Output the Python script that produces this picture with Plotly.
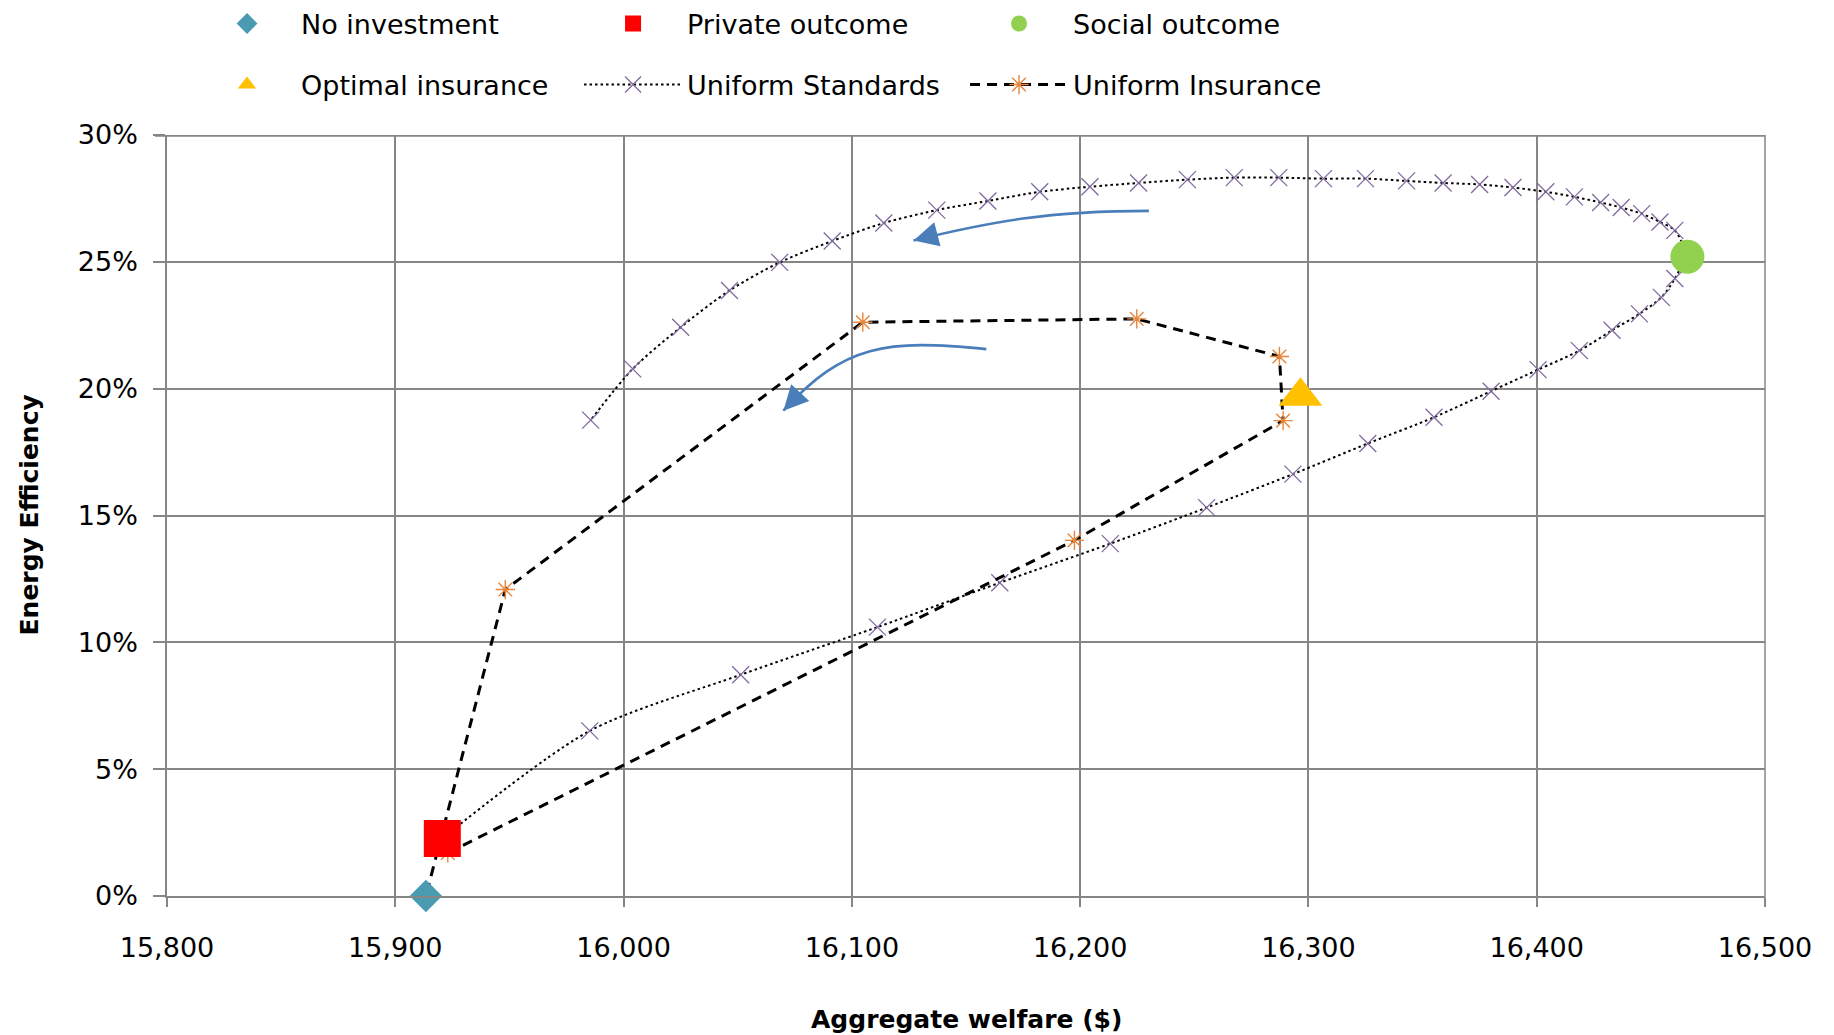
import plotly.graph_objects as go

# ---------------- data ----------------
no_inv_x = [15913.4]
no_inv_y = [0.0]

private_x = [15920.6]
private_y = [2.27]

social_x = [16466.0]
social_y = [25.2]

optimal_x = [16296.5]
optimal_y = [19.7]

us_x = [15921.0, 15985.2, 16051.3, 16111.2, 16164.8, 16213.2, 16255.4, 16293.2,
        16326.0, 16355.0, 16380.0, 16400.6, 16418.7, 16433.0, 16445.0, 16454.6,
        16460.5, 16465.0, 16460.5, 16454.0, 16446.0, 16437.0, 16428.0, 16416.5,
        16404.0, 16389.6, 16375.0, 16359.0, 16343.0, 16325.0, 16306.6, 16287.0,
        16267.5, 16247.0, 16225.6, 16204.3, 16182.3, 16159.6, 16137.2, 16114.0,
        16091.4, 16068.4, 16046.4, 16025.0, 16004.0, 15985.6]
us_y = [2.3, 6.51, 8.72, 10.6, 12.35, 13.89, 15.31, 16.63,
        17.84, 18.87, 19.9, 20.75, 21.5, 22.3, 22.95, 23.6,
        24.34, 25.3, 26.24, 26.57, 26.9, 27.14, 27.34, 27.56,
        27.76, 27.93, 28.05, 28.11, 28.19, 28.28, 28.28, 28.32,
        28.32, 28.24, 28.11, 27.96, 27.76, 27.4, 27.04, 26.53,
        25.82, 24.98, 23.87, 22.42, 20.78, 18.76]

ui_x = [15923.0, 16197.5, 16288.9, 16287.3, 16224.8, 16104.8, 15948.2, 15913.4]
ui_y = [1.7, 14.02, 18.74, 21.27, 22.75, 22.62, 12.08, 0.0]

x_ticks = [15800, 15900, 16000, 16100, 16200, 16300, 16400, 16500]
y_ticks = [0, 5, 10, 15, 20, 25, 30]
y_tick_labels = ["0%", "5%", "10%", "15%", "20%", "25%", "30%"]

# curved arrows (start, control1, control2, tip) in data units
arrow1 = [(16230.1, 27.01), (16186.3, 27.01), (16161.1, 26.59), (16127.0, 25.84)]
arrow2 = [(16158.9, 21.56), (16115.1, 21.96), (16096.5, 21.75), (16070.0, 19.13)]

# ---------------- styles ----------------
FONT = "DejaVu Sans"
GRID = "#868686"
ARROW = "#4A7EBB"

fig = go.Figure()

fig.add_trace(go.Scatter(
    x=us_x, y=us_y, mode="lines+markers", name="Uniform Standards",
    line=dict(color="black", width=2, dash="2.5px,3px", shape="spline", smoothing=0.8),
    marker=dict(symbol="x-thin-open", size=17, color="#7F6A9F",
                line=dict(color="#7F6A9F", width=1.3)),
    legend="legend2", legendrank=2))

fig.add_trace(go.Scatter(
    x=ui_x, y=ui_y, mode="lines+markers", name="Uniform Insurance",
    line=dict(color="black", width=3, dash="10px,7px"),
    marker=dict(symbol="asterisk-open", size=16, color="#E8853A",
                line=dict(color="#E8853A", width=1.4)),
    legend="legend2", legendrank=3))

fig.add_trace(go.Scatter(
    x=no_inv_x, y=no_inv_y, mode="markers", name="No investment", cliponaxis=False,
    marker=dict(symbol="diamond", size=25, color="#4A9BB2"),
    legend="legend", legendrank=1))

fig.add_trace(go.Scatter(
    x=private_x, y=private_y, mode="markers", name="Private outcome", cliponaxis=False,
    marker=dict(symbol="square", size=37, color="#FF0000"),
    legend="legend", legendrank=2))

fig.add_trace(go.Scatter(
    x=social_x, y=social_y, mode="markers", name="Social outcome", cliponaxis=False,
    marker=dict(symbol="circle", size=34, color="#92D050"),
    legend="legend", legendrank=3))

fig.add_trace(go.Scatter(
    x=optimal_x, y=optimal_y, mode="markers", name="Optimal insurance", cliponaxis=False,
    marker=dict(symbol="triangle-up", size=38, color="#FFC000"),
    legend="legend2", legendrank=1))

# curved arrow bodies
shapes = []
for a in (arrow1, arrow2):
    p = "M {},{} C {},{} {},{} {},{}".format(a[0][0], a[0][1], a[1][0], a[1][1],
                                             a[2][0], a[2][1], a[3][0], a[3][1])
    shapes.append(dict(type="path", path=p, xref="x", yref="y",
                       line=dict(color=ARROW, width=2.6)))

# top thick border and right border
shapes.append(dict(type="line", xref="paper", yref="y", x0=-0.0075, x1=1, y0=30, y1=30,
                   line=dict(color=GRID, width=3.5)))
shapes.append(dict(type="line", xref="paper", yref="paper", x0=1, x1=1, y0=-0.012, y1=1,
                   line=dict(color=GRID, width=1.5)))

annotations = [
    dict(x=arrow1[3][0], y=arrow1[3][1], xref="x", yref="y", ax=19, ay=-5,
         showarrow=True, arrowhead=2, arrowsize=1.9, arrowwidth=2.6,
         arrowcolor=ARROW, text=""),
    dict(x=arrow2[3][0], y=arrow2[3][1], xref="x", yref="y", ax=14, ay=-15,
         showarrow=True, arrowhead=2, arrowsize=1.9, arrowwidth=2.6,
         arrowcolor=ARROW, text=""),
    dict(text="<b>Aggregate welfare ($)</b>", x=0.5, y=0, xref="paper", yref="paper",
         xanchor="center", yanchor="middle", yshift=-123, showarrow=False,
         font=dict(family=FONT, size=25, color="black")),
    dict(text="<b>Energy Efficiency</b>", x=0, y=0.5, xref="paper", yref="paper",
         xanchor="center", yanchor="middle", xshift=-138, textangle=-90, showarrow=False,
         font=dict(family=FONT, size=25, color="black")),
]

legend_common = dict(orientation="h", xanchor="left", yanchor="middle",
                     itemwidth=98, entrywidth=273, entrywidthmode="pixels",
                     font=dict(family=FONT, size=27, color="black"),
                     bgcolor="rgba(0,0,0,0)", traceorder="normal")

# the page body has an 8px margin; the figure is offset by it
fig.update_layout(
    width=1826, height=1027,
    margin=dict(l=159, r=69, t=127, b=139, autoexpand=False),
    paper_bgcolor="white", plot_bgcolor="white",
    font=dict(family=FONT, size=27, color="black"),
    showlegend=True,
    legend=dict(x=0.0163, y=1.1459, **legend_common),
    legend2=dict(x=0.0163, y=1.0657, **legend_common),
    shapes=shapes,
    annotations=annotations,
    xaxis=dict(range=[15800, 16500], tickvals=x_ticks, tickformat=",d",
               showgrid=True, gridcolor=GRID, gridwidth=1.5,
               showline=True, linecolor=GRID, linewidth=1.5,
               ticks="outside", ticklen=9, tickcolor=GRID, tickwidth=1.5,
               zeroline=False, tickfont=dict(family=FONT, size=27, color="black"),
               ticklabelstandoff=18),
    yaxis=dict(range=[0, 30], tickvals=y_ticks, ticktext=y_tick_labels,
               showgrid=True, gridcolor=GRID, gridwidth=1.5,
               showline=True, linecolor=GRID, linewidth=1.5,
               ticks="outside", ticklen=12, tickcolor=GRID, tickwidth=1.5,
               zeroline=False, tickfont=dict(family=FONT, size=27, color="black"),
               ticklabelstandoff=10),
)

fig.write_html("out.html")
